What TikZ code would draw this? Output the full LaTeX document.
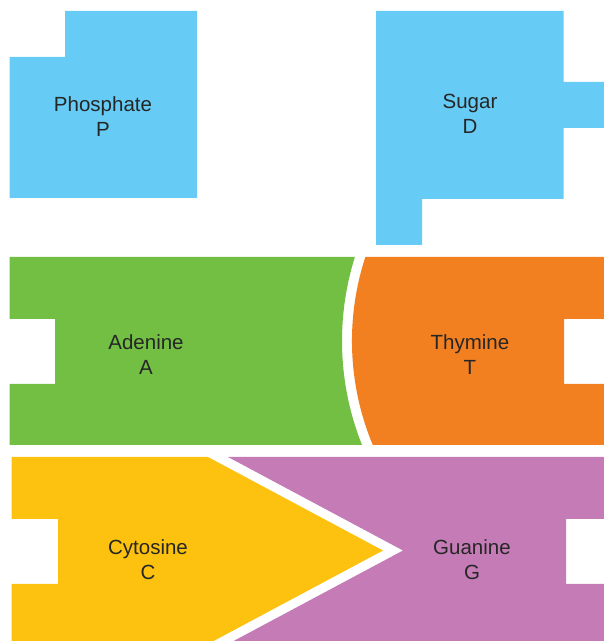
\documentclass[tikz,border=0pt]{standalone}
\usepackage{fontspec}
\setmainfont{Liberation Sans}
\definecolor{cblue}{HTML}{66CCF5}
\definecolor{cgreen}{HTML}{72BF44}
\definecolor{corange}{HTML}{F28021}
\definecolor{cyellow}{HTML}{FDC210}
\definecolor{cpurple}{HTML}{C57CB6}
\definecolor{ctext}{HTML}{262626}
\begin{document}
\begin{tikzpicture}[x=1pt,y=1pt,
  lbl/.style={align=center,inner sep=0pt,text=ctext,font=\fontsize{20.5}{25}\selectfont}]
\useasboundingbox (0,0) rectangle (604,641);
% Phosphate
\fill[cblue] (65,630) -- (197,630) -- (197,443) -- (9.5,443) -- (9.5,584) -- (65,584) -- cycle;
% Sugar
\fill[cblue] (376,630) -- (563.5,630) -- (563.5,559) -- (604,559) -- (604,513) -- (563.5,513)
  -- (563.5,442) -- (422,442) -- (422,396) -- (376,396) -- cycle;
% Adenine
\fill[cgreen] (9.5,384) -- (354.9,384) arc[start angle=162.54, end angle=201.8, radius=280]
  -- (9.5,196) -- (9.5,257) -- (55,257) -- (55,322) -- (9.5,322) -- cycle;
% Thymine
\fill[corange] (365.4,384) -- (604,384) -- (604,322) -- (564,322) -- (564,257) -- (604,257)
  -- (604,196) -- (372.8,196) arc[start angle=202.66, end angle=161.87, radius=270] -- cycle;
% Cytosine
\fill[cyellow] (11.5,184) -- (208,184) -- (383,90.5) -- (213.6,0) -- (11.5,0) -- (11.5,57)
  -- (58,57) -- (58,122) -- (11.5,122) -- cycle;
% Guanine
\fill[cpurple] (228,184) -- (604,184) -- (604,122) -- (566,122) -- (566,57) -- (604,57)
  -- (604,0) -- (233.6,0) -- (403,90.5) -- cycle;
% labels
\node[lbl] (p) at (103,524.5) {Phosphate\\P};
\node[lbl] (d) at (470,527.5) {Sugar\\D};
\node[lbl] (a) at (146,286.5) {Adenine\\A};
\node[lbl] (t) at (470,286.5) {Thymine\\T};
\node[lbl] (c) at (148,81) {Cytosine\\C};
\node[lbl] (g) at (472,81) {Guanine\\G};
\end{tikzpicture}
\end{document}
